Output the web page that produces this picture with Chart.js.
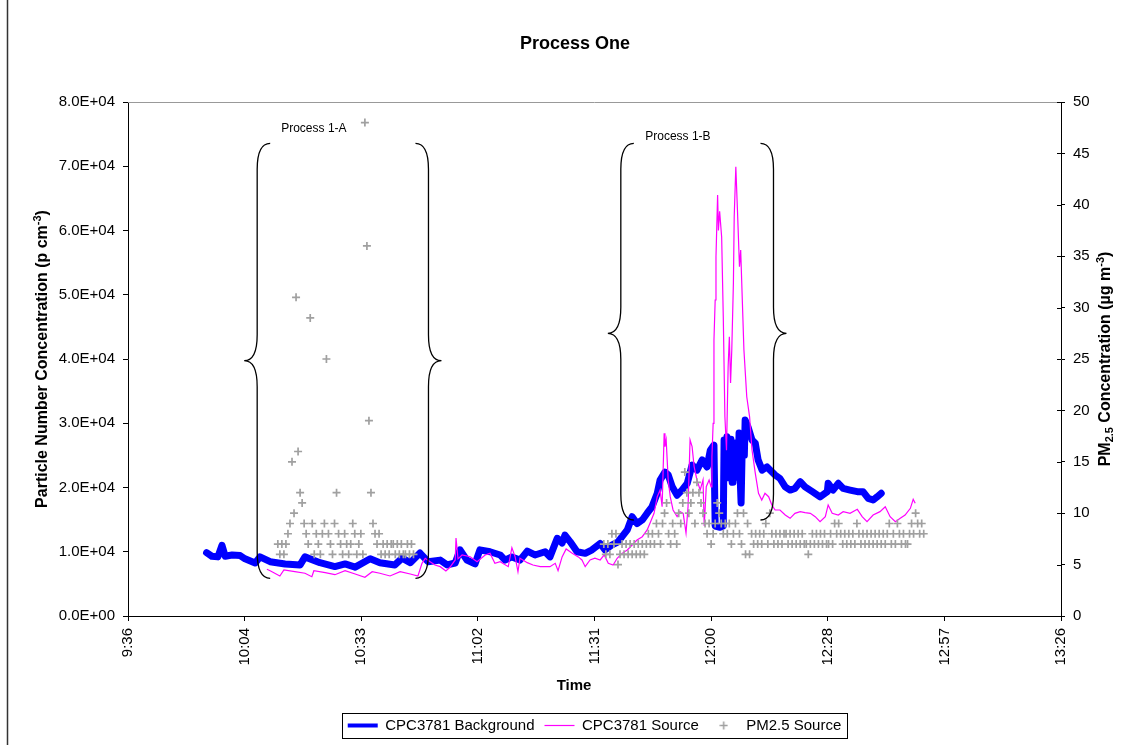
<!DOCTYPE html>
<html>
<head>
<meta charset="utf-8">
<title>Process One</title>
<script src="https://cdn.jsdelivr.net/npm/chart.js@4.4.1/dist/chart.umd.min.js"></script>
<style>
  html, body { margin: 0; padding: 0; background: #fff; }
  #wrap { width: 1135px; height: 745px; }
</style>
</head>
<body>
<div id="wrap"><canvas id="chart" width="1135" height="745"></canvas></div>
<script>
// x values are minutes after midnight; Excel ticks every 0.02 day (28.8 min)
const xTickValues = [576, 604.8, 633.6, 662.4, 691.2, 720, 748.8, 777.6, 806.4];
const xTickLabels = ["9:36", "10:04", "10:33", "11:02", "11:31", "12:00", "12:28", "12:57", "13:26"];

// CPC3781 background (p/cm3)
const bgTime = [
  595.4, 596.7, 598.2, 599.2, 600.0, 601.7, 603.7, 604.9, 607.4, 608.6,
  611.1, 614.8, 618.5, 619.7, 623.4, 627.1, 629.6, 632.1, 635.8, 638.2,
  641.9, 643.7, 645.7, 648.1, 650.1, 653.1, 654.8, 656.8, 658.0, 659.7,
  661.7, 662.9, 665.4, 667.9, 669.1, 670.8, 672.8, 674.6, 676.5, 679.0,
  680.2, 682.0, 683.2, 683.9, 685.2, 686.9, 688.9, 690.6, 692.6, 693.8,
  695.5, 697.0, 698.0, 699.3, 700.5, 701.7, 703.0, 704.2, 705.4, 706.7,
  707.4, 708.6, 709.4, 710.4, 711.6, 712.8, 714.1, 715.3, 716.5, 717.8,
  719.0, 719.8, 720.7, 721.0, 722.2, 723.0, 723.2, 723.6, 723.9, 724.2,
  724.4, 724.7, 724.9, 725.2, 725.4, 725.7, 725.9, 726.2, 726.4, 726.7,
  726.9, 727.2, 727.4, 727.7, 727.9, 728.2, 728.4, 729.1, 730.1, 730.9,
  731.6, 732.6, 733.8, 734.6, 735.8, 737.0, 738.3, 739.5, 740.7, 742.0,
  743.2, 745.0, 746.9, 748.7, 748.9, 750.1, 751.4, 752.6, 754.3, 756.1,
  757.5, 758.8, 760.0, 761.0, 762.0
];
const bgValue = [
  9850, 9300, 9200, 11000, 9300, 9500, 9400, 8900, 8250, 9200,
  8450, 8100, 7950, 9200, 8300, 7700, 8100, 7600, 8900, 8300,
  7950, 9000, 8300, 9800, 8450, 8700, 7950, 8250, 10300, 8700,
  8100, 10300, 10000, 9500, 8700, 9200, 8700, 10100, 9500, 10000,
  9200, 12100, 11350, 12600, 11550, 10000, 9750, 10300, 11300, 10300,
  11050, 11550, 12350, 13400, 15450, 14400, 14950, 16000, 17000, 19100,
  21150, 22400, 21950, 20100, 18800, 19600, 20650, 23500, 22700, 24300,
  23200, 25800, 26600, 14000, 13800, 14000, 27400, 23000, 27900, 21500,
  26000, 22000, 27500, 20800, 26500, 21500, 26800, 22000, 27000, 22500,
  28500, 21000, 17600, 27000, 28000, 25000, 30500, 29450, 27400, 26900,
  24300, 22700, 23200, 22700, 21950, 21400, 20100, 19600, 19850, 20900,
  20100, 19350, 18550, 19350, 20650, 19600, 20650, 19850, 19600, 19350,
  19350, 18300, 18050, 18550, 19100
];

// CPC3781 source (p/cm3)
const srcTime = [
  610.3, 611.1, 613.5, 614.5, 617.2, 619.7, 621.4, 621.9, 624.7, 627.1,
  629.6, 632.1, 634.5, 636.3, 638.2, 640.7, 643.2, 645.7, 647.6, 648.6,
  649.4, 650.6, 651.8, 653.1, 654.5, 655.5, 656.8, 657.0, 657.5, 658.5,
  660.5, 662.2, 664.2, 665.4, 666.6, 667.9, 669.9, 670.8, 671.6, 672.3,
  672.8, 674.6, 676.0, 677.8, 680.2, 681.5, 682.2, 683.2, 684.2, 685.7,
  687.2, 688.1, 688.9, 690.1, 691.3, 692.6, 693.6, 694.6, 695.8, 696.8,
  698.0, 699.3, 700.5, 701.7, 703.0, 704.2, 704.9, 705.9, 706.7, 707.4,
  707.9, 708.4, 708.6, 708.9, 709.4, 709.9, 710.6, 711.6, 712.3, 713.1,
  713.8, 714.3, 714.8, 715.3, 715.8, 716.5, 717.3, 718.0, 718.3, 718.8,
  719.5, 720.0, 720.2, 720.5, 720.7, 721.0, 721.2, 721.6, 721.8, 722.1,
  722.6, 723.0, 723.4, 723.8, 724.2, 724.5, 724.8, 725.1, 725.5, 725.7,
  726.1, 726.5, 727.0, 727.3, 727.7, 728.1, 728.8, 729.5, 730.1, 730.9,
  731.7, 732.5, 733.3, 734.2, 735.0, 735.8, 737.0, 738.3, 739.5, 740.7,
  742.0, 743.2, 744.5, 745.7, 746.9, 748.2, 748.9, 749.9, 751.4, 752.6,
  754.3, 756.1, 757.3, 758.5, 760.0, 761.7, 763.0, 764.2, 765.5, 766.7,
  767.9, 769.2, 769.9, 770.4
];
const srcValue = [
  7270, 7050, 6230, 7160, 6900, 6650, 6120, 7050, 6750, 6430,
  7050, 6540, 6020, 6900, 6650, 6230, 6900, 6540, 6230, 8200,
  8980, 8450, 7940, 7680, 7000, 7580, 8720, 12140, 8900, 9500,
  9230, 8450, 9500, 9750, 8200, 8450, 7680, 10630, 9200, 6900,
  9000, 8300, 7940, 7680, 7680, 8200, 7050, 9200, 10430, 9750,
  9200, 8720, 7680, 8720, 9000, 8720, 9500, 8200, 7940, 8980,
  9750, 10270, 11050, 11830, 12340, 13390, 14420, 15980, 18570, 19610,
  17000, 28440, 26360, 27400, 21170, 18570, 16500, 15460, 16240, 15980,
  12900, 17000, 27400, 26360, 23250, 21170, 19610, 21170, 14000, 20120,
  21170, 20100, 24800, 29990, 42960, 49180, 55930, 65530, 60000, 63000,
  59000, 46600, 31000, 25800, 38800, 43470, 36250, 41400, 51800, 62150,
  69900, 63200, 54360, 56960, 49180, 41400, 34130, 31000, 25840, 22250,
  19100, 18050, 19100, 18570, 17280, 16500, 16500, 15720, 15200, 15980,
  16240, 16100, 15980, 15460, 14680, 15460, 17280, 15980, 15720, 16240,
  15980, 16600, 15460, 14680, 15720, 16240, 17000, 15460, 14680, 15200,
  15720, 16760, 18160, 17540
];

// PM2.5 source (ug/m3), logged every 30 s, two runs
const pmStep = 0.5;
const pmStartA = 613.0;
const pmA = [
  7, 6, 7, 6, 7, 8, 9, 15, 10, 31,
  16, 12, 11, 9, 8, 7, 29, 9, 6, 8,
  7, 6, 8, 9, 25, 8, 7, 6, 9, 12,
  8, 7, 6, 8, 7, 6, 7, 9, 8, 6,
  7, 8, 6, 48, 36, 19, 12, 9, 8, 7,
  8, 6, 7, 6, 7, 6, 7, 7, 6, 7,
  6, 7, 6, 6, 7, 6, 7, 6
];
const pmStartB = 693.5;
const pmB = [
  7, 6, 7, 6, 8, 7, 8, 5, 6, 7,
  6, 7, 6, 7, 6, 7, 6, 7, 6, 7,
  6, 7, 8, 7, 8, 7, 9, 8, 7, 9,
  10, 11, 8, 7, 9, 8, 7, 10, 9, 11,
  14, 12, 10, 11, 12, 9, 13, 12, 11, 10,
  9, 8, 9, 7, 8, 9, 11, 10, 9, 8,
  9, 8, 9, 7, 8, 9, 10, 8, 7, 10,
  6, 9, 6, 8, 7, 8, 7, 8, 7, 8,
  9, 7, 10, 8, 7, 8, 7, 8, 7, 8,
  8, 7, 8, 7, 8, 7, 8, 7, 8, 7,
  7, 6, 7, 8, 7, 8, 7, 8, 7, 8,
  7, 7, 8, 7, 9, 8, 9, 8, 7, 8,
  7, 8, 7, 8, 7, 9, 8, 7, 8, 7,
  8, 7, 8, 7, 8, 7, 8, 7, 8, 7,
  8, 9, 7, 8, 7, 9, 8, 7, 8, 7,
  7, 8, 9, 8, 10, 9, 8, 9, 8
];

// bracket annotations (time in minutes, height on the left axis)
const braces = [
  { text: "Process 1-A", from: 607.9, to: 650.2, top: 73570, tip: 39740, bottom: 5870, textX: 621.9, textY: 75800 },
  { text: "Process 1-B", from: 697.7, to: 735.4, top: 73570, tip: 44000, bottom: 14940, textX: 711.8, textY: 74600 }
];

const $ = (id) => document.getElementById(id);
const FONT = "'Liberation Sans', Arial, Helvetica, sans-serif";
const PM_GREY = "#a0a0a0";

const pairs = (xs, ys) => xs.map((x, i) => ({ x, y: ys[i] }));
const logged = (start, vals) => vals.map((y, i) => ({ x: start + i * pmStep, y }));

// 8.0E+04 style
function sci(v){
  const [m, e] = Number(v).toExponential(1).split("e");
  const n = parseInt(e, 10);
  return m + "E" + (n < 0 ? "-" : "+") + String(Math.abs(n)).padStart(2, "0");
}

// small "+" used as the legend symbol (the built-in cross stretches to the box width)
function plusIcon(){
  const c = document.createElement("canvas");
  c.width = 9; c.height = 9;
  const g = c.getContext("2d");
  g.strokeStyle = PM_GREY; g.lineWidth = 1.6;
  g.beginPath(); g.moveTo(0.5, 4.5); g.lineTo(8.5, 4.5); g.moveTo(4.5, 0.5); g.lineTo(4.5, 8.5); g.stroke();
  return c;
}
const pmIcon = plusIcon();

// text with super/subscripts, centred on (x, y), optionally turned to read upwards
function richText(ctx, parts, x, y, upright, size){
  const big = "bold " + size + "px " + FONT, small = "bold " + Math.round(size * 0.66) + "px " + FONT;
  ctx.save();
  ctx.translate(x, y);
  if(!upright) ctx.rotate(-Math.PI / 2);
  let total = 0;
  parts.forEach(p => { ctx.font = p[1] ? small : big; total += ctx.measureText(p[0]).width; });
  let cx = -total / 2;
  ctx.textBaseline = "middle"; ctx.textAlign = "left"; ctx.fillStyle = "#000";
  parts.forEach(p => {
    ctx.font = p[1] ? small : big;
    const dy = p[1] === "sup" ? -size * 0.33 : p[1] === "sub" ? size * 0.27 : 0;
    ctx.fillText(p[0], cx, dy);
    cx += ctx.measureText(p[0]).width;
  });
  ctx.restore();
}

// curly bracket; dir 1 = "{", -1 = "}"
function brace(ctx, x, yTop, yTip, yBot, dir){
  const w = 13 * dir, r = 26;
  ctx.beginPath();
  ctx.moveTo(x + w, yTop);
  ctx.quadraticCurveTo(x, yTop, x, yTop + r);
  ctx.lineTo(x, yTip - r);
  ctx.quadraticCurveTo(x, yTip, x - w, yTip);
  ctx.quadraticCurveTo(x, yTip, x, yTip + r);
  ctx.lineTo(x, yBot - r);
  ctx.quadraticCurveTo(x, yBot, x + w, yBot);
  ctx.stroke();
}

const decor = {
  id: "decor",
  afterDatasetsDraw(chart){
    const {ctx, scales: {x, y}} = chart;
    ctx.save();
    ctx.strokeStyle = "#000"; ctx.lineWidth = 1.3;
    braces.forEach(b => {
      const t = y.getPixelForValue(b.top), m = y.getPixelForValue(b.tip), bt = y.getPixelForValue(b.bottom);
      brace(ctx, x.getPixelForValue(b.from), t, m, bt, 1);
      brace(ctx, x.getPixelForValue(b.to), t, m, bt, -1);
      ctx.font = "12px " + FONT; ctx.fillStyle = "#000";
      ctx.textAlign = "center"; ctx.textBaseline = "middle";
      ctx.fillText(b.text, x.getPixelForValue(b.textX), y.getPixelForValue(b.textY));
    });
    ctx.restore();
  },
  afterDraw(chart){
    const {ctx, chartArea: a, scales: {y2}} = chart;
    ctx.save();
    // plot area top edge
    ctx.strokeStyle = "#999"; ctx.lineWidth = 1;
    ctx.beginPath(); ctx.moveTo(a.left, a.top + 0.5); ctx.lineTo(a.right, a.top + 0.5); ctx.stroke();
    // right axis ticks cross the axis
    ctx.strokeStyle = "#000";
    y2.ticks.forEach(tk => {
      const py = Math.round(y2.getPixelForValue(tk.value)) + 0.5;
      ctx.beginPath(); ctx.moveTo(a.right - 4, py); ctx.lineTo(a.right, py); ctx.stroke();
    });
    // outer frame
    ctx.strokeStyle = "#333"; ctx.lineWidth = 1.5;
    ctx.beginPath(); ctx.moveTo(7.5, 0); ctx.lineTo(7.5, 745); ctx.stroke();
    // legend box
    const hb = chart.legend.legendHitBoxes;
    if(hb && hb.length){
      const l = Math.min(...hb.map(h => h.left)), r = Math.max(...hb.map(h => h.left + h.width));
      const t = hb[0].top, h = hb[0].height;
      ctx.strokeStyle = "#000"; ctx.lineWidth = 1;
      ctx.strokeRect(Math.round(l - 6) + 0.5, Math.round(t - 5) + 0.5, Math.round(r - l + 11), Math.round(h + 10));
    }
    // titles
    ctx.font = "bold 18px " + FONT; ctx.fillStyle = "#000";
    ctx.textAlign = "center"; ctx.textBaseline = "middle";
    ctx.fillText("Process One", 575, 44);
    richText(ctx, [["Time"]], 574, 686, true, 15);
    const cy = (a.top + a.bottom) / 2;
    richText(ctx, [["Particle Number Concentration (p cm"], ["-3", "sup"], [")"]], 43, cy, false, 16);
    richText(ctx, [["PM"], ["2.5", "sub"], [" Concentration (\u00b5g m"], ["-3", "sup"], [")"]], 1106, cy, false, 16);
    ctx.restore();
  }
};

Chart.defaults.font.family = FONT;
Chart.defaults.color = "#000";

const chart = new Chart($("chart"), {
  type: "line",
  data: {
    datasets: [
      { label: "CPC3781 Background", data: pairs(bgTime, bgValue), yAxisID: "y", order: 3,
        borderColor: "#0000ff", backgroundColor: "#0000ff", borderWidth: 7, pointRadius: 0,
        borderJoinStyle: "round", borderCapStyle: "round", tension: 0 },
      { label: "CPC3781 Source", data: pairs(srcTime, srcValue), yAxisID: "y", order: 2,
        borderColor: "#ff00ff", backgroundColor: "#ff00ff", borderWidth: 1.2, pointRadius: 0, tension: 0 },
      { label: "PM2.5 Source", data: logged(pmStartA, pmA).concat(logged(pmStartB, pmB)), yAxisID: "y2", order: 1,
        showLine: false, pointStyle: "cross", pointRadius: 4, pointBorderWidth: 1.7,
        borderColor: PM_GREY, pointBorderColor: PM_GREY, backgroundColor: PM_GREY }
    ]
  },
  options: {
    responsive: false, animation: false, devicePixelRatio: 1,
    layout: { padding: { top: 102, bottom: 2, left: 0, right: 0 } },
    plugins: {
      title: { display: false },
      tooltip: { enabled: false },
      legend: {
        position: "bottom", fullSize: false,
        labels: {
          usePointStyle: true, pointStyleWidth: 30, boxHeight: 5, padding: 10,
          font: { size: 15 },
          generateLabels: (c) => c.data.datasets.map((ds, i) => ({
            text: ds.label, datasetIndex: i, fontColor: "#000",
            pointStyle: ds.showLine === false ? pmIcon : "line",
            strokeStyle: ds.borderColor, fillStyle: ds.borderColor,
            lineWidth: ds.showLine === false ? 1.5 : Math.min(ds.borderWidth, 4)
          }))
        }
      }
    },
    scales: {
      x: {
        type: "linear", min: 576, max: 806.4,
        afterBuildTicks: (s) => { s.ticks = xTickValues.map(value => ({ value })); },
        afterFit: (s) => { s.height = 92; },
        ticks: { autoSkip: false, minRotation: 90, maxRotation: 90, padding: 7, font: { size: 15 },
                 callback: (v, i) => xTickLabels[i] },
        grid: { drawOnChartArea: false, color: "#000", tickLength: 5 },
        border: { color: "#000", width: 1 }
      },
      y: {
        position: "left", min: 0, max: 80000,
        afterFit: (s) => { s.width = 128; },
        ticks: { stepSize: 10000, padding: 8, font: { size: 15 }, callback: (v) => sci(v) },
        grid: { drawOnChartArea: false, color: "#000", tickLength: 5 },
        border: { color: "#000", width: 1 }
      },
      y2: {
        position: "right", min: 0, max: 50,
        afterFit: (s) => { s.width = 74; },
        ticks: { stepSize: 5, padding: 8, font: { size: 15 } },
        grid: { drawOnChartArea: false, color: "#000", tickLength: 4 },
        border: { color: "#000", width: 1 }
      }
    }
  },
  plugins: [decor]
});
</script>
</body>
</html>
